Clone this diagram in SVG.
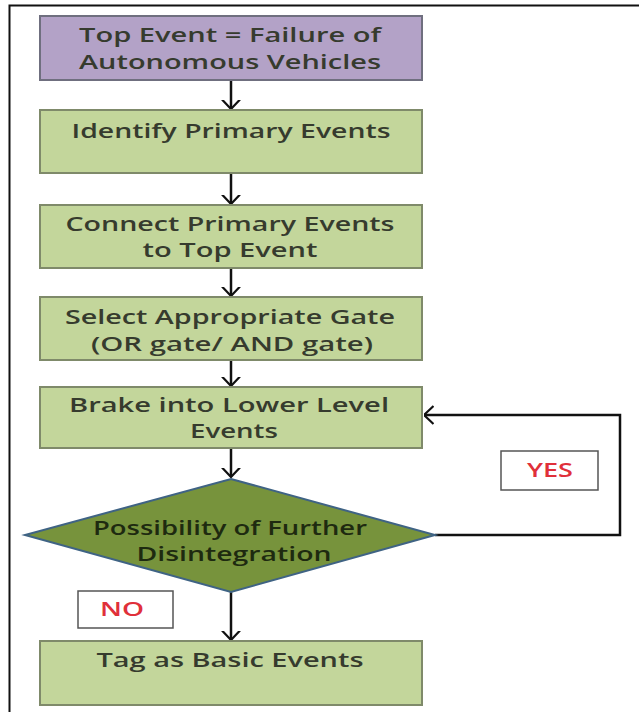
<svg xmlns="http://www.w3.org/2000/svg" width="639" height="712" viewBox="0 0 639 712">
<style>
.box{fill:#c3d69b;stroke:#7f8a6a;stroke-width:2}
.txt{font-family:"Open Sans","DejaVu Sans",sans-serif;font-size:20px;font-weight:600;fill:#363b2e;text-anchor:middle}
.lbl{font-family:"Open Sans","DejaVu Sans",sans-serif;font-size:19px;font-weight:600;fill:#e0303a;text-anchor:middle}
.lblbox{fill:#fff;stroke:#555;stroke-width:1.5}
.con{fill:none;stroke:#111;stroke-width:2.5}
</style>
<defs>
<marker id="ah" viewBox="0 0 10 20" refX="9.5" refY="10" markerWidth="10" markerHeight="20" markerUnits="userSpaceOnUse" orient="auto">
<path d="M0,1 L9.5,10 L0,19" fill="none" stroke="#111" stroke-width="2.2"/>
</marker>
</defs>
<rect x="9.5" y="5.5" width="640" height="720" fill="#fff" stroke="#111" stroke-width="2"/>
<g id="connectors">
<line class="con" x1="231" y1="80" x2="231" y2="109" marker-end="url(#ah)"/>
<line class="con" x1="231" y1="173" x2="231" y2="204" marker-end="url(#ah)"/>
<line class="con" x1="231" y1="268" x2="231" y2="296" marker-end="url(#ah)"/>
<line class="con" x1="231" y1="360" x2="231" y2="386" marker-end="url(#ah)"/>
<line class="con" x1="231" y1="448" x2="231" y2="477" marker-end="url(#ah)"/>
<line class="con" x1="231" y1="592" x2="231" y2="640" marker-end="url(#ah)"/>
<path class="con" d="M435,535 H620 V415 H424" marker-end="url(#ah)" stroke-width="2"/>
</g>
<g id="top">
<rect x="40" y="16" width="382" height="64" fill="#b3a2c7" stroke="#6f6f7f" stroke-width="2"/>
<text class="txt" x="230" y="42" textLength="302" lengthAdjust="spacingAndGlyphs">Top Event = Failure of</text>
<text class="txt" x="230" y="69" textLength="302" lengthAdjust="spacingAndGlyphs">Autonomous Vehicles</text>
</g>
<g id="identify">
<rect class="box" x="40" y="110" width="382" height="63"/>
<text class="txt" x="231" y="138" textLength="319" lengthAdjust="spacingAndGlyphs">Identify Primary Events</text>
</g>
<g id="connect">
<rect class="box" x="40" y="205" width="382" height="63"/>
<text class="txt" x="230" y="231" textLength="329" lengthAdjust="spacingAndGlyphs">Connect Primary Events</text>
<text class="txt" x="230" y="257" textLength="175" lengthAdjust="spacingAndGlyphs">to Top Event</text>
</g>
<g id="select">
<rect class="box" x="40" y="297" width="382" height="63"/>
<text class="txt" x="230" y="324" textLength="330" lengthAdjust="spacingAndGlyphs">Select Appropriate Gate</text>
<text class="txt" x="232" y="351" textLength="282" lengthAdjust="spacingAndGlyphs">(OR gate/ AND gate)</text>
</g>
<g id="brake">
<rect class="box" x="40" y="387" width="382" height="61"/>
<text class="txt" x="229" y="412" textLength="320" lengthAdjust="spacingAndGlyphs">Brake into Lower Level</text>
<text class="txt" x="234" y="438" textLength="88" lengthAdjust="spacingAndGlyphs">Events</text>
</g>
<g id="decision">
<polygon points="231,479 435,535 231,592 25,535" fill="#77933c" stroke="#3f6384" stroke-width="2"/>
<text class="txt" x="230" y="535" textLength="274" lengthAdjust="spacingAndGlyphs" style="fill:#1e2a10">Possibility of Further</text>
<text class="txt" x="234" y="561" textLength="195" lengthAdjust="spacingAndGlyphs" style="fill:#1e2a10">Disintegration</text>
</g>
<g id="yes">
<rect class="lblbox" x="501" y="451" width="97" height="39"/>
<text class="lbl" x="550" y="477" textLength="46" lengthAdjust="spacingAndGlyphs">YES</text>
</g>
<g id="no">
<rect class="lblbox" x="78" y="591" width="95" height="37"/>
<text class="lbl" x="122" y="616" textLength="44" lengthAdjust="spacingAndGlyphs">NO</text>
</g>
<g id="basic">
<rect class="box" x="40" y="641" width="382" height="64"/>
<text class="txt" x="230" y="667" textLength="267" lengthAdjust="spacingAndGlyphs">Tag as Basic Events</text>
</g>
</svg>
